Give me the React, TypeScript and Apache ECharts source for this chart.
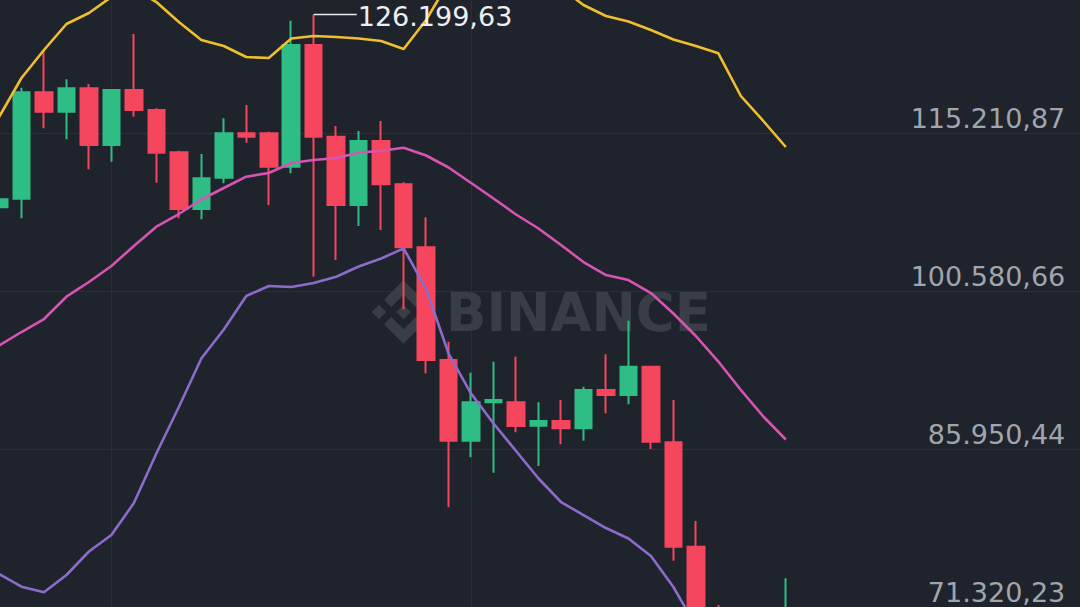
import React, { useEffect, useRef } from "react";
import * as echarts from "echarts";

// Weekly candles (BTC/USDT style), categories incl. empty future weeks on the right
const weeks = [
  "2025-06-30", "2025-07-07", "2025-07-14", "2025-07-21", "2025-07-28", "2025-08-04",
  "2025-08-11", "2025-08-18", "2025-08-25", "2025-09-01", "2025-09-08", "2025-09-15",
  "2025-09-22", "2025-09-29", "2025-10-06", "2025-10-13", "2025-10-20", "2025-10-27",
  "2025-11-03", "2025-11-10", "2025-11-17", "2025-11-24", "2025-12-01", "2025-12-08",
  "2025-12-15", "2025-12-22", "2025-12-29", "2026-01-05", "2026-01-12", "2026-01-19",
  "2026-01-26", "2026-02-02", "2026-02-09", "2026-02-16", "2026-02-23", "2026-03-02",
  "2026-03-09", "2026-03-16", "2026-03-23", "2026-03-30", "2026-04-06", "2026-04-13",
  "2026-04-20", "2026-04-27", "2026-05-04", "2026-05-11", "2026-05-18", "2026-05-25",
  "2026-06-01",
];

const opens = [
  108367, 109162, 119002, 117208, 119372, 114128, 119215, 117365, 113453, 108210,
  111104, 115210, 115210, 112122, 123376, 114896, 108580, 114498, 110494, 104668,
  94245, 86782, 90333, 90333, 88169, 88604, 87929, 91471, 91008, 93626,
  86634, 76979, 67426, 62802, 59103, 55404,
];
const closes = [
  109107, 119002, 117208, 119372, 114128, 119215, 117365, 113416, 108210, 111049,
  115210, 114896, 112122, 123376, 114896, 108580, 114498, 110494, 104668, 94245,
  86782, 90333, 90546, 88142, 88604, 87929, 91471, 91008, 93626, 86690,
  76979, 67426, 62802, 59103, 55404, 62802,
];
const lows = [
  105065, 107350, 115673, 114656, 111881, 112584, 116746, 110642, 107350, 107257,
  110587, 114341, 108580, 111511, 101949, 103493, 106638, 106268, 98934, 93015,
  80623, 85247, 83823, 87559, 84442, 86449, 86782, 89316, 90148, 86014,
  75684, 66039, 60952, 57253, 53554, 53554,
];
const highs = [
  110614, 119428, 122914, 120204, 119770, 119260, 124394, 117522, 113601, 113296,
  116598, 117828, 115358, 125624, 126199.63, 115886, 115423, 116348, 110679, 107442,
  95938, 93071, 94088, 94550, 90333, 90546, 91776, 94772, 97880, 93700,
  90546, 79356, 71588, 66502, 63727, 74057,
];

// Bollinger bands
const upperBand = [
  116718, 120325, 122914, 125318, 126336, 127815, 128555, 127353, 125503, 123839,
  123284, 122267, 122174, 123978, 124209, 124116, 123978, 123746, 123006, 125688,
  129203, 130035, 130035, 129573, 129480, 128648, 127076, 126058, 125550, 124764,
  123885, 123284, 122609, 118660, 116348, 113943,
];
const midBand = [
  95586, 96835, 98037, 100099, 101459, 102938, 104788, 106573, 107747, 109088,
  110152, 111197, 111539, 112464, 112741, 112926, 113416, 113601, 113879, 113157,
  112048, 110614, 109181, 107701, 106406, 104880, 103308, 102106, 101644, 100441,
  98546, 96465, 94106, 91471, 89020, 86893,
];
const lowerBand = [
  74454, 73280, 72762, 74362, 76535, 78061, 81021, 85598, 89899, 94384,
  97066, 100164, 101089, 100996, 101366, 101949, 102892, 103632, 104575, 100811,
  94846, 91147, 88373, 85830, 83286, 81113, 79911, 78709, 77738, 76119,
  73252, 69646, 65576, 64282, 61692, 59843,
];

// Price axis ticks (right side labels)
const yTicks = [71320.23, 85950.44, 100580.66, 115210.87];
const yMax = 127723;
// Vertical time grid lines
const timeGridWeeks = ["2025-08-04", "2025-11-24"];
// All-time-high annotation
const athIndex = 14;
const athValue = 126199.63;

const BG = "#1f232b";
const GRID = "#2b2f38";
const UP = "#2ebd85";
const DOWN = "#f6465d";
const LABEL = "#a0a5ae";
const WATERMARK = "#393d46";
const FONT = "DejaVu Sans";

const LOGO_PATH =
  "M38.73 53.2 L63.32 28.62 L87.93 53.22 L102.24 38.91 L63.32 0 L24.43 38.9 Z " +
  "M0 63.31 L14.3 49 L28.61 63.31 L14.3 77.61 Z " +
  "M38.73 73.41 L63.32 98 L87.93 73.4 L102.24 87.7 L63.32 126.61 L24.43 87.71 Z " +
  "M98 63.31 L112.3 49 L126.61 63.31 L112.3 77.61 Z " +
  "M77.83 63.3 L63.32 48.78 L48.8 63.3 L63.32 77.81 Z";

function fmt(v: number): string {
  const [i, d] = v.toFixed(2).split(".");
  return i.replace(/\B(?=(\d{3})+(?!\d))/g, ".") + "," + d;
}

export default function App() {
  const ref = useRef<HTMLDivElement>(null);

  useEffect(() => {
    if (!ref.current) return;
    try {
      echarts.graphic.registerShape("binanceLogo", echarts.graphic.extendPath(LOGO_PATH, {}));
    } catch (e) {
      // already registered
    }
    const chart = echarts.init(ref.current, null, { renderer: "svg" });
    const interval = (yTicks[yTicks.length - 1] - yTicks[0]) / (yTicks.length - 1);

    const candleData = opens.map((o, i) => [o, closes[i], lows[i], highs[i]]);

    chart.setOption({
      animation: false,
      backgroundColor: BG,
      grid: {
        left: -12.24,
        right: -9.28,
        top: -2,
        bottom: -0.91,
        containLabel: false,
        outerBoundsMode: "none",
      },
      xAxis: {
        type: "category",
        data: weeks,
        boundaryGap: true,
        show: false,
      },
      yAxis: {
        type: "value",
        position: "right",
        min: yTicks[0],
        max: yMax,
        interval,
        axisLine: { show: false },
        axisTick: { show: false },
        splitLine: { show: true, lineStyle: { color: GRID, width: 1 } },
        axisLabel: {
          inside: true,
          margin: 24,
          color: LABEL,
          fontSize: 27,
          fontFamily: FONT,
          verticalAlign: "bottom",
          lineHeight: 30,
          showMaxLabel: false,
          formatter: (v: number) => (Math.abs(v - yMax) < 1 ? "" : fmt(v)),
        },
      },
      series: [
        {
          type: "candlestick",
          data: candleData,
          barWidth: 17,
          silent: true,
          itemStyle: {
            color: UP,
            color0: DOWN,
            borderColor: UP,
            borderColor0: DOWN,
            borderWidth: 2,
          },
          markLine: {
            silent: true,
            z: 1,
            symbol: ["none", "none"],
            label: { show: false },
            lineStyle: { color: GRID, width: 1, type: "solid" },
            data: timeGridWeeks.map((w) => ({ xAxis: w })),
          },
        },
        {
          type: "line",
          data: upperBand,
          symbol: "none",
          silent: true,
          lineStyle: { color: "#efbf2f", width: 2.6 },
        },
        {
          type: "line",
          data: midBand,
          symbol: "none",
          silent: true,
          lineStyle: { color: "#d654b4", width: 2.6 },
        },
        {
          type: "line",
          data: lowerBand,
          symbol: "none",
          silent: true,
          lineStyle: { color: "#8c6bca", width: 2.6 },
        },
      ],
    });

    const p = chart.convertToPixel({ gridIndex: 0 }, [athIndex, athValue]) as number[];
    const px = p[0];
    const py = p[1];

    chart.setOption({
      graphic: [
        {
          type: "binanceLogo",
          x: 371.85,
          y: 280.35,
          scaleX: 0.5,
          scaleY: 0.5,
          z: 1,
          silent: true,
          style: { fill: WATERMARK },
        },
        {
          type: "text",
          x: 446,
          y: 312.5,
          z: 1,
          silent: true,
          style: {
            text: "BINANCE",
            fill: WATERMARK,
            fontSize: 53,
            fontWeight: "bold",
            fontFamily: FONT,
            align: "left",
            verticalAlign: "middle",
          },
        },
        {
          type: "line",
          z: 10,
          silent: true,
          shape: { x1: px, y1: py, x2: px + 43, y2: py },
          style: { stroke: "#e8eaed", lineWidth: 1.5 },
        },
        {
          type: "text",
          x: px + 44,
          y: py + 2.5,
          z: 10,
          silent: true,
          style: {
            text: fmt(athValue),
            fill: "#eceef1",
            fontSize: 27,
            fontFamily: FONT,
            align: "left",
            verticalAlign: "middle",
          },
        },
      ],
    });

    return () => chart.dispose();
  }, []);

  return (
    <div
      ref={ref}
      style={{ position: "fixed", left: 0, top: 0, width: 1080, height: 607, background: BG }}
    />
  );
}
